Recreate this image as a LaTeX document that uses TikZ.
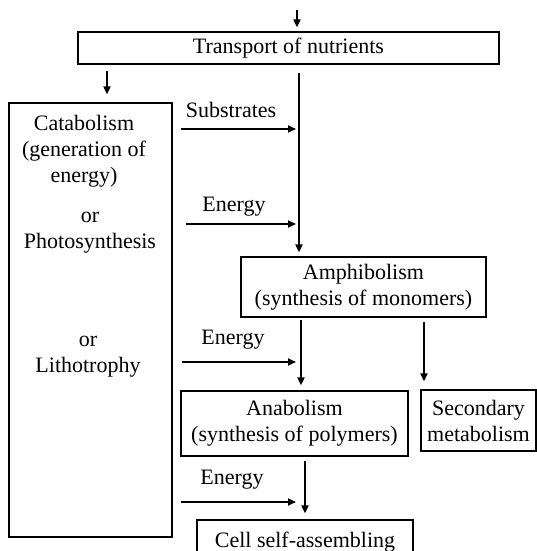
\documentclass[tikz,border=0pt]{standalone}
\usepackage{fontspec}
\setmainfont{Liberation Serif}
\usetikzlibrary{arrows.meta}
\begin{document}
\begin{tikzpicture}[x=1pt,y=-1pt,
  box/.style={draw,line width=1.3pt,inner sep=0pt,align=center},
  lbl/.style={inner sep=0pt,align=center},
  arr/.style={line width=1.9pt,-{Triangle[length=8pt,width=7pt]}},
  font=\fontsize{22}{26}\selectfont]
\useasboundingbox (0,0) rectangle (537,551);

% boxes
\node[box,minimum width=421pt,minimum height=32pt] (trans) at (288.5,48) {Transport of nutrients};
\node[box,minimum width=163pt,minimum height=434pt] (cat) at (90.5,320) {};
\node[box,minimum width=245pt,minimum height=60pt] (amph) at (363.5,287) {Amphibolism\\(synthesis of monomers)};
\node[box,minimum width=227pt,minimum height=65pt] (ana) at (294.5,423.5) {Anabolism\\(synthesis of polymers)};
\node[box,minimum width=115pt,minimum height=61pt] (sec) at (478.5,420.5) {Secondary\\metabolism};
\node[box,minimum width=216pt,minimum height=44pt] (cell) at (305,542) {Cell self-assembling};

% texts inside the energy-generation column
\node[lbl] (catA) at (84,151) {Catabolism\\(generation of\\energy)};
\node[lbl] (catB) at (90,233) {or\\Photosynthesis};
\node[lbl] (catC) at (88,357) {or\\Lithotrophy};

% arrow labels
\node[lbl] (sub) at (231,110) {Substrates};
\node[lbl] (en1) at (234,207) {Energy};
\node[lbl] (en2) at (233,340) {Energy};
\node[lbl] (en3) at (232,480) {Energy};

% helper positions
\coordinate (in) at (297,10);
\coordinate (xcat) at (107,0);
\coordinate (xmain) at (299,0);
\coordinate (xana) at (301,0);
\coordinate (xsec) at (424,0);
\coordinate (xcell) at (305,0);
\coordinate (ysub) at (0,129);
\coordinate (yen1) at (0,224);
\coordinate (yen2) at (0,362);
\coordinate (yen3) at (0,502);

% connectors
\draw[arr,shorten >=4pt] (in) -- (in |- trans.north);
\draw[arr,shorten <=6pt,shorten >=8pt] (trans.south -| xcat) -- (cat.north -| xcat);
\draw[arr,shorten <=8pt,shorten >=4pt] (trans.south -| xmain) -- (amph.north -| xmain);
\draw[arr,shorten <=8pt,shorten >=3pt] (cat.east |- ysub) -- (xmain |- ysub);
\draw[arr,shorten <=13pt,shorten >=3pt] (cat.east |- yen1) -- (xmain |- yen1);
\draw[arr,shorten <=2pt,shorten >=5pt] (amph.south -| xana) -- (ana.north -| xana);
\draw[arr,shorten <=4pt,shorten >=8pt] (amph.south -| xsec) -- (sec.north -| xsec);
\draw[arr,shorten <=9pt,shorten >=5pt] (cat.east |- yen2) -- (xana |- yen2);
\draw[arr,shorten <=4pt,shorten >=6pt] (ana.south -| xcell) -- (cell.north -| xcell);
\draw[arr,shorten <=8pt,shorten >=9pt] (cat.east |- yen3) -- (xcell |- yen3);
\end{tikzpicture}
\end{document}
